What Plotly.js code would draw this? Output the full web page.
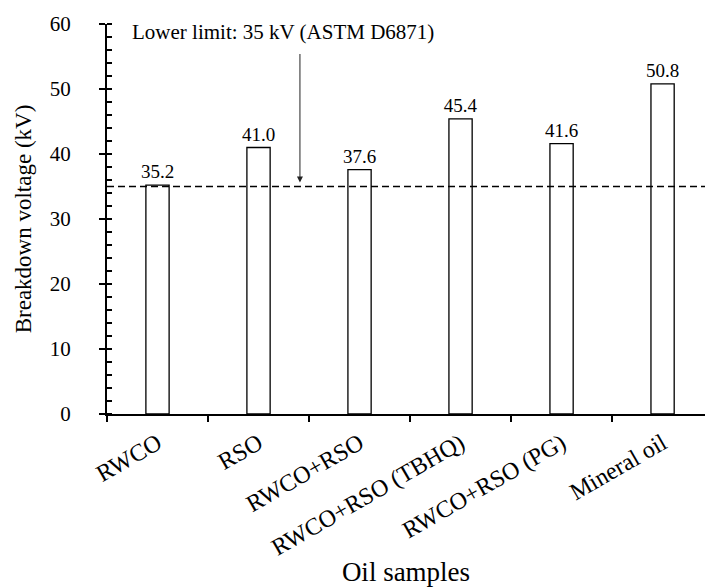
<!DOCTYPE html>
<html>
<head>
<meta charset="utf-8">
<script src="https://cdn.plot.ly/plotly-3.0.1.min.js"></script>
<style>html,body{margin:0;padding:0;background:#fff;}#chart{width:705px;height:587px;}</style>
</head>
<body>
<div id="chart"></div>
<script>
const categories = ["RWCO", "RSO", "RWCO+RSO", "RWCO+RSO (TBHQ)", "RWCO+RSO (PG)", "Mineral oil"];
const breakdownVoltage = [35.2, 41.0, 37.6, 45.4, 41.6, 50.8];
const lowerLimit = 35;
const limitLabel = "Lower limit: 35 kV (ASTM D6871)";
const yTitle = "Breakdown voltage (kV)";
const xTitle = "Oil samples";

const FONT = "'Liberation Serif', 'Times New Roman', serif";
const xRange = [-0.5, 5.42];

const traces = [{
  type: "bar",
  x: categories,
  y: breakdownVoltage,
  width: 0.23,
  marker: {color: "#ffffff", line: {color: "#000000", width: 1.3}},
  text: breakdownVoltage.map(v => v.toFixed(1)),
  textposition: "outside",
  constraintext: "none",
  textfont: {family: FONT, size: 19, color: "#000"},
  cliponaxis: false,
  hoverinfo: "skip",
  xaxis: "x",
  yaxis: "y"
}];

const layout = {
  width: 705, height: 587,
  margin: {l: 107, r: 0, t: 24, b: 173},
  paper_bgcolor: "#fff", plot_bgcolor: "#fff",
  showlegend: false,
  font: {family: FONT, color: "#000"},
  bargap: 0,
  xaxis: {
    type: "category",
    range: xRange,
    tickson: "boundaries",
    ticks: "outside", ticklen: 6, tickwidth: 2, tickcolor: "#000",
    showline: true, linecolor: "#000", linewidth: 2,
    showgrid: false, zeroline: false,
    tickangle: -30,
    tickfont: {family: FONT, size: 24, color: "#000"},
    ticklabelstandoff: 4,
    title: {text: xTitle, font: {family: FONT, size: 27, color: "#000"}, standoff: 8},
    fixedrange: true
  },
  xaxis2: {
    type: "linear", overlaying: "x", anchor: "y", side: "bottom",
    range: xRange,
    tickmode: "linear", tick0: 0, dtick: 1,
    ticks: "inside", ticklen: 4, tickwidth: 2, tickcolor: "#000",
    showticklabels: false, showline: false, showgrid: false, zeroline: false
  },
  yaxis: {
    range: [0, 60],
    tickmode: "linear", tick0: 0, dtick: 10,
    ticks: "outside", ticklen: 6, tickwidth: 2, tickcolor: "#000",
    minor: {dtick: 2, ticks: "inside", ticklen: 5, tickwidth: 2, tickcolor: "#000", showgrid: false},
    showline: true, linecolor: "#000", linewidth: 2,
    showgrid: false, zeroline: false,
    tickfont: {family: FONT, size: 21, color: "#000"},
    ticklabelstandoff: 24,
    title: {text: yTitle, font: {family: FONT, size: 23, color: "#000"}, standoff: 12},
    fixedrange: true
  },
  yaxis2: {
    range: [0, 60], overlaying: "y", anchor: "x", side: "left",
    tickmode: "linear", tick0: 0, dtick: 10,
    ticks: "inside", ticklen: 6, tickwidth: 2, tickcolor: "#000",
    showticklabels: false, showline: false, showgrid: false, zeroline: false
  },
  shapes: [{
    type: "line", xref: "paper", yref: "y",
    x0: 0, x1: 1, y0: lowerLimit, y1: lowerLimit,
    line: {color: "#000", width: 1.3, dash: "7px,4px"}
  }],
  annotations: [
    {
      text: limitLabel, xref: "paper", yref: "y", x: 0.294, y: 58.7,
      xanchor: "center", yanchor: "middle", showarrow: false,
      font: {family: FONT, size: 21, color: "#000"}
    },
    {
      text: "", xref: "x", yref: "y", x: 1.41, y: lowerLimit,
      showarrow: true, ax: 0, ay: -134, axref: "pixel", ayref: "pixel",
      arrowhead: 2, arrowsize: 1.2, arrowwidth: 1, arrowcolor: "#222", standoff: 4
    }
  ]
};

Plotly.newPlot("chart", traces, layout, {staticPlot: true, displayModeBar: false});
</script>
</body>
</html>
